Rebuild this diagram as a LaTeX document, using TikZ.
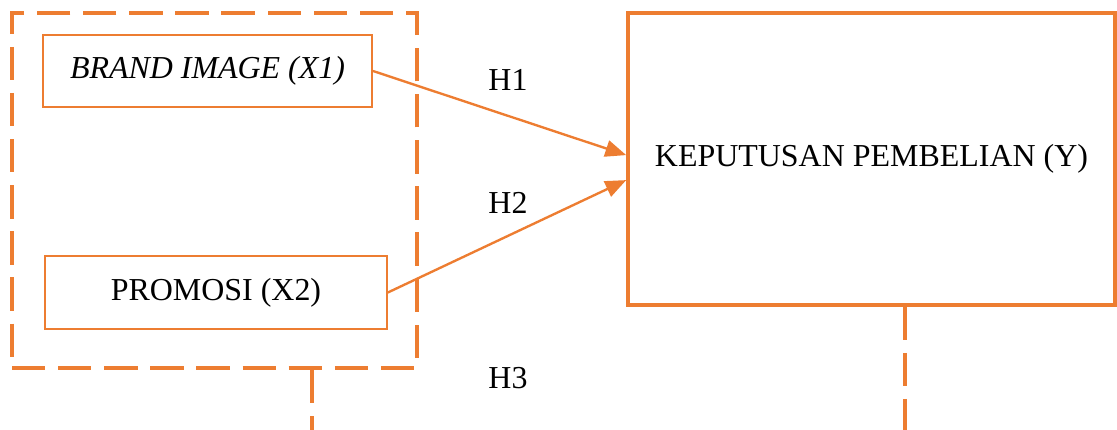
\documentclass[tikz,border=0pt]{standalone}
\usepackage{fontspec}
\setmainfont{Liberation Serif}
\usepackage{tikz}
\usetikzlibrary{calc}
\usetikzlibrary{arrows.meta}
\usetikzlibrary{positioning}
\definecolor{korange}{RGB}{237,125,49}
\tikzstyle{var} = [rectangle, draw=korange, line width=0.75pt,
    text centered, minimum height=26pt, font=\fontsize{11.5}{14}\selectfont]
\tikzstyle{group} = [rectangle, draw=korange, line width=1.45pt,
    dash pattern=on 12pt off 4.6pt, minimum width=145.8pt, minimum height=127.8pt]
\tikzstyle{target} = [rectangle, draw=korange, line width=1.3pt,
    text centered, minimum width=175.3pt, minimum height=105.1pt, font=\fontsize{11.5}{14}\selectfont]
\tikzstyle{hyp} = [font=\fontsize{11.5}{14}\selectfont]

\begin{document}
\begin{tikzpicture}[x=0.36pt,y=-0.36pt]
    \useasboundingbox (0,0) rectangle (1117,430);

    \node[group] (grp) at (214.5,190.5) {};
    \node[var, minimum width=118.4pt] (brand) at (207.5,71) {\textit{BRAND IMAGE (X1)}};
    \node[var, minimum width=123pt] (promosi) at (216,292.5) {PROMOSI (X2)};

    \node[target] (kep) at (871.5,159) {KEPUTUSAN PEMBELIAN (Y)};

    \draw[-{Triangle[length=7.5pt,width=6pt]}, korange, line width=0.85pt]
        (brand.east) -- ([yshift=1.4pt]kep.west);
    \draw[-{Triangle[length=7.5pt,width=6pt]}, korange, line width=0.85pt]
        (promosi.east) -- ([yshift=-7.6pt]kep.west);

    \node[hyp] (h1) at (508,80) {H1};
    \node[hyp] (h2) at (508,203) {H2};
    \node[hyp] (h3) at (508,378) {H3};

    % H3 lines run off the bottom edge
    \coordinate (grpend) at (312,430);
    \coordinate (kepend) at (905,430);
    \draw[korange, line width=1.45pt, dash pattern=on 12pt off 4.6pt]
        (grp.south -| grpend) -- (grpend);
    \draw[korange, line width=1.45pt, dash pattern=on 12pt off 4.6pt]
        (kep.south -| kepend) -- (kepend);
\end{tikzpicture}
\end{document}
